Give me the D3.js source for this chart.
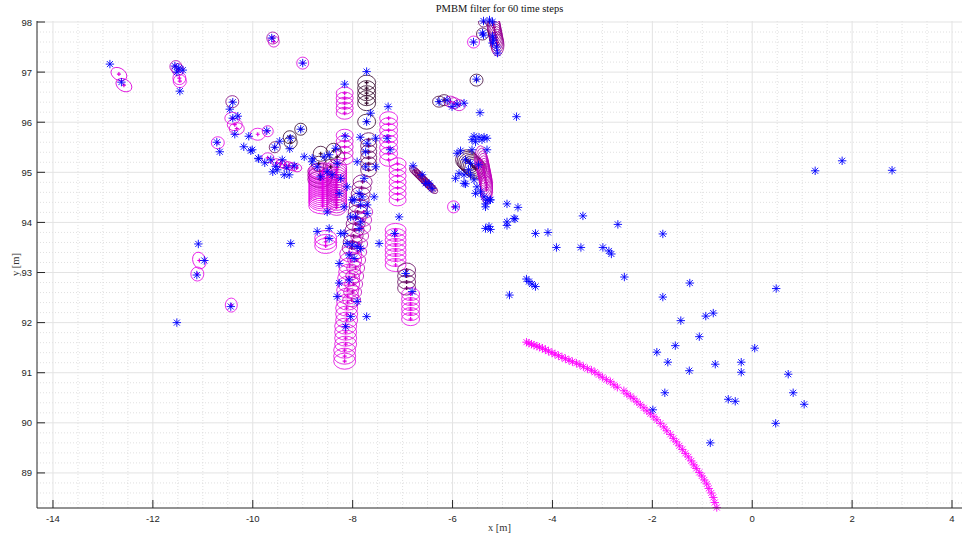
<!DOCTYPE html>
<html><head><meta charset="utf-8">
<script src="https://cdn.jsdelivr.net/npm/d3@7"></script>
<style>body{margin:0;background:#fff}</style>
</head><body>
<svg id="chart" width="967" height="537"></svg>
<script>
// Axis ticks
const xTicks = [-14,-12,-10,-8,-6,-4,-2,0,2,4];
const yTicks = [89,90,91,92,93,94,95,96,97,98];

// Measurements (blue asterisks), [x, y] in metres
const measurements = [
[-12.86,97.16],[-12.63,96.80],
[-11.56,97.12],[-11.48,97.08],[-11.40,97.04],[-11.52,97.00],[-11.46,96.62],
[-10.40,96.40],[-10.46,96.26],[-10.40,96.08],[-10.30,96.12],[-10.36,95.76],[-10.72,95.60],[-10.66,95.41],
[-10.18,95.51],[-10.04,95.43],[-10.08,95.72],[-9.72,95.83],[-9.88,95.27],[-9.56,95.50],[-9.46,95.62],
[-9.26,95.47],[-9.04,95.86],[-9.62,97.68],[-9.00,97.18],[-9.25,95.68],
[-9.89,95.28],[-9.64,95.25],[-9.54,95.12],[-9.41,95.25],[-9.37,94.95],[-9.27,94.95],[-9.51,95.05],
[-9.17,95.13],[-10.01,95.45],[-9.60,95.01],[-9.32,95.09],[-9.76,95.19],
[-8.97,95.31],[-8.81,95.28],[-8.57,95.31],[-8.47,95.35],[-8.71,95.11],[-8.51,95.01],[-8.41,94.95],
[-8.34,95.48],[-8.31,95.18],[-8.24,94.88],[-8.64,94.91],[-8.81,95.21],
[-8.16,96.76],[-7.72,97.01],[-7.64,96.18],[-7.29,96.31],[-7.72,96.01],
[-8.15,95.72],[-7.85,95.70],[-7.54,95.68],[-7.71,95.58],[-7.74,95.41],[-7.74,95.11],[-7.54,95.11],
[-7.91,95.21],[-7.31,95.68],[-7.25,95.45],
[-8.11,94.71],[-8.27,94.58],[-7.77,94.88],[-7.97,94.45],[-7.87,94.58],[-7.57,94.51],[-7.71,94.35],
[-8.04,94.11],[-7.84,94.01],[-8.51,94.21],[-8.47,93.88],[-8.71,93.82],[-8.24,93.78],[-7.07,94.11],
[-7.16,93.78],[-6.79,95.13],[-6.61,94.95],[-6.47,94.78],[-6.41,94.68],[-6.54,94.78],
[-8.17,94.31],[-8.01,94.45],[-7.81,94.51],[-7.84,94.35],[-7.94,94.11],[-7.71,94.18],[-7.87,93.88],
[-8.17,93.78],[-8.47,93.68],[-8.11,93.58],[-8.01,93.55],[-7.91,93.52],[-7.84,93.48],[-8.07,93.35],
[-7.97,93.28],[-8.27,93.18],[-9.24,93.58],[-7.47,93.58],[-6.94,92.98],[-6.81,92.62],[-8.27,92.79],
[-8.31,92.52],[-8.07,92.85],[-7.91,92.42],[-8.04,92.12],[-8.14,91.92],[-7.72,92.12],
[-6.27,96.41],[-6.11,96.44],[-6.01,96.31],[-5.77,96.38],[-5.91,96.36],[-5.52,96.86],[-5.45,96.19],[-4.72,96.11],
[-5.38,98.02],[-5.26,98.04],[-5.20,98.00],[-5.40,97.78],[-5.38,97.74],[-5.58,97.60],[-5.20,97.72],
[-5.18,97.64],[-5.20,97.58],[-5.10,97.38],[-5.12,97.50],
[-5.57,95.72],[-5.47,95.70],[-5.37,95.70],[-5.31,95.68],[-5.54,95.61],[-5.61,95.65],[-5.41,95.65],
[-5.31,95.45],[-5.84,95.43],[-5.91,95.38],[-5.61,95.45],[-5.74,95.25],[-5.64,95.18],[-5.87,94.98],
[-5.94,94.88],[-5.77,94.78],[-5.64,94.95],[-5.57,94.85],[-5.51,94.71],[-5.44,94.61],[-5.37,94.51],
[-5.31,94.45],[-5.24,94.45],[-5.34,94.31],[-5.54,94.58],[-5.77,94.95],[-5.27,93.92],
[-5.34,93.88],[-4.77,94.08],[-4.91,94.01],[-5.74,94.77],[-5.48,95.15],[-5.68,95.05],
[-5.94,94.31],[-4.91,94.37],[-4.69,94.30],[-4.75,94.07],[-4.91,93.94],[-5.24,93.86],[-5.25,94.45],[-5.34,94.37],
[-4.34,93.78],[-4.09,93.80],[-3.39,94.13],[-2.69,93.96],[-1.79,93.77],[-3.92,93.50],[-3.43,93.50],
[-2.99,93.50],[-2.87,93.43],[-2.82,93.37],[-2.56,92.91],[-4.52,92.87],[-4.47,92.82],[-4.41,92.77],
[-4.34,92.72],[-4.86,92.55],[-1.79,92.51],[-1.25,92.79],[0.48,92.68],[-1.43,92.04],[-0.93,92.13],
[-0.78,92.19],[-1.06,91.72],[-1.54,91.54],[0.05,91.49],[-1.91,91.41],[-1.69,91.21],[-0.74,91.17],
[-0.22,91.21],[-0.22,91.01],[-1.26,91.04],[0.72,90.97],[0.82,90.60],[1.04,90.37],[-0.48,90.47],
[-0.34,90.43],[-1.75,90.60],[-1.99,90.26],[0.47,89.99],[-0.84,89.60],[1.26,95.03],[1.80,95.23],[2.80,95.04],
[-11.09,93.57],[-10.97,93.24],[-11.12,92.95],[-10.44,92.32],[-11.52,92.00]
];

// Ground-truth trajectory (magenta asterisks)
const truth = [
[-4.52,91.61],[-4.47,91.59],[-4.42,91.57],[-4.37,91.55],[-4.31,91.53],[-4.26,91.51],[-4.20,91.49],
[-4.14,91.46],[-4.08,91.43],[-4.01,91.40],[-3.95,91.37],[-3.88,91.34],[-3.81,91.31],[-3.74,91.28],
[-3.67,91.25],[-3.60,91.22],[-3.52,91.19],[-3.45,91.16],[-3.38,91.12],[-3.30,91.08],[-3.22,91.05],
[-3.15,91.01],[-3.07,90.96],[-3.00,90.91],[-2.92,90.86],[-2.84,90.82],[-2.77,90.76],[-2.70,90.71],
[-2.57,90.64],[-2.51,90.58],[-2.44,90.53],[-2.37,90.48],[-2.31,90.42],[-2.24,90.36],[-2.17,90.30],
[-2.11,90.24],[-2.04,90.18],[-1.97,90.12],[-1.91,90.06],[-1.84,89.99],[-1.77,89.92],[-1.71,89.84],
[-1.64,89.77],[-1.58,89.69],[-1.52,89.62],[-1.46,89.54],[-1.40,89.47],[-1.34,89.39],[-1.28,89.32],
[-1.22,89.24],[-1.17,89.16],[-1.12,89.09],[-1.06,89.01],[-1.01,88.94],[-0.96,88.86],[-0.91,88.78],
[-0.87,88.69],[-0.82,88.60],[-0.78,88.51],[-0.75,88.41],[-0.71,88.31]
];

// Track estimates: tone (0 = dark, 1 = magenta), semi-axes sx/sy [m], rotation [deg], centres
const tracks = [
{tone:0.9, sx:0.17, sy:0.12, rot:30, pts:[[-12.68,96.96],[-12.58,96.74]]},
{tone:0.7, sx:0.12, sy:0.12, rot:0, pts:[[-11.54,97.11],[-11.50,97.05]]},
{tone:0.95, sx:0.13, sy:0.13, rot:0, pts:[[-11.47,96.88],[-11.46,96.82]]},
{tone:0.45, sx:0.13, sy:0.12, rot:0, pts:[[-10.41,96.41]]},
{tone:0.9, sx:0.15, sy:0.12, rot:0, pts:[[-10.41,96.08],[-10.36,95.95],[-10.32,95.87]]},
{tone:0.95, sx:0.13, sy:0.12, rot:0, pts:[[-10.70,95.59]]},
{tone:0.95, sx:0.15, sy:0.12, rot:0, pts:[[-9.90,95.76]]},
{tone:0.9, sx:0.11, sy:0.11, rot:0, pts:[[-9.70,95.82]]},
{tone:0.05, sx:0.13, sy:0.13, rot:0, pts:[[-9.26,95.70],[-9.24,95.60]]},
{tone:0.05, sx:0.12, sy:0.12, rot:0, pts:[[-9.04,95.86]]},
{tone:0.3, sx:0.11, sy:0.11, rot:0, pts:[[-9.56,95.50]]},
{tone:0.9, sx:0.12, sy:0.10, rot:0, pts:[[-9.70,95.29]]},
{tone:0.85, sx:0.10, sy:0.08, rot:10, pts:[[-9.52,95.19],[-9.44,95.17],[-9.36,95.15],[-9.28,95.13],[-9.20,95.11],[-9.12,95.09]]},
{tone:0.6, sx:0.12, sy:0.12, rot:0, pts:[[-9.60,97.68]]},
{tone:0.85, sx:0.11, sy:0.11, rot:0, pts:[[-9.58,97.61]]},
{tone:0.9, sx:0.12, sy:0.12, rot:0, pts:[[-9.00,97.18]]},
{tone:0.05, sx:0.18, sy:0.15, rot:0, pts:[[-7.72,96.79],[-7.72,96.68],[-7.72,96.58],[-7.72,96.48],[-7.72,96.38],[-7.72,96.01]]},
{tone:0.9, sx:0.17, sy:0.12, rot:0, pts:[[-8.16,96.58],[-8.16,96.48],[-8.16,96.38],[-8.16,96.28],[-8.16,96.18]]},
{tone:0.9, sx:0.17, sy:0.12, rot:0, pts:[[-8.16,95.74],[-8.16,95.62],[-8.16,95.51],[-8.16,95.39],[-8.16,95.27]]},
{tone:0.95, sx:0.18, sy:0.13, rot:0, pts:[[-7.28,96.08],[-7.28,95.96],[-7.28,95.84],[-7.28,95.72],[-7.28,95.61],[-7.28,95.49],[-7.28,95.37],[-7.28,95.25]]},
{tone:0.3, sx:0.16, sy:0.14, rot:0, pts:[[-7.68,95.65],[-7.68,95.53],[-7.68,95.41],[-7.68,95.29],[-7.68,95.17],[-7.68,95.05]]},
{tone:0.95, sx:0.17, sy:0.12, rot:0, pts:[[-7.10,95.17],[-7.10,95.05],[-7.10,94.93],[-7.10,94.81],[-7.10,94.69],[-7.10,94.57],[-7.10,94.45]]},
{tone:0.08, sx:0.15, sy:0.15, rot:0, pts:[[-8.64,95.37],[-8.38,95.43],[-8.31,95.31],[-8.44,95.11],[-8.68,95.17]]},
{tone:0.95, sx:0.28, sy:0.16, rot:0, pts:[[-8.60,95.03],[-8.60,94.99],[-8.60,94.95],[-8.60,94.91],[-8.60,94.87],[-8.60,94.83],[-8.60,94.79],[-8.60,94.75],[-8.60,94.71],[-8.60,94.67],[-8.60,94.63],[-8.60,94.59],[-8.60,94.55],[-8.60,94.51],[-8.60,94.47],[-8.60,94.43],[-8.60,94.39],[-8.60,94.33]]},
{tone:0.6, sx:0.24, sy:0.16, rot:0, pts:[[-8.66,95.02],[-8.66,94.94],[-8.66,94.86]]},
{tone:0.85, sx:0.20, sy:0.16, rot:0, pts:[[-8.32,95.10],[-8.32,95.05],[-8.32,95.00],[-8.32,94.95],[-8.32,94.90],[-8.32,94.85],[-8.32,94.80],[-8.32,94.75],[-8.32,94.70],[-8.32,94.65],[-8.32,94.60],[-8.32,94.55],[-8.32,94.50],[-8.32,94.45],[-8.32,94.40],[-8.32,94.35],[-8.32,94.30]]},
{tone:0.45, sx:0.19, sy:0.14, rot:0, pts:[[-7.80,94.81],[-7.82,94.69],[-7.84,94.57],[-7.86,94.45],[-7.88,94.33],[-7.90,94.21],[-7.92,94.09],[-7.94,93.97],[-7.96,93.85],[-7.98,93.73],[-8.00,93.61],[-8.02,93.49]]},
{tone:0.75, sx:0.18, sy:0.13, rot:0, pts:[[-7.78,94.21],[-7.80,94.05],[-7.82,93.89],[-7.86,93.73],[-7.88,93.57],[-7.90,93.41],[-7.92,93.25],[-7.94,93.09],[-7.96,92.93],[-7.98,92.77],[-8.00,92.61],[-8.02,92.45]]},
{tone:0.92, sx:0.22, sy:0.16, rot:0, pts:[[-8.04,93.37],[-8.04,93.25],[-8.06,93.13],[-8.06,93.01],[-8.08,92.89],[-8.08,92.77],[-8.10,92.65],[-8.10,92.53],[-8.10,92.41],[-8.12,92.29],[-8.12,92.17],[-8.12,92.05],[-8.14,91.93],[-8.14,91.81],[-8.14,91.69],[-8.14,91.57],[-8.16,91.45],[-8.16,91.33],[-8.16,91.23]]},
{tone:0.95, sx:0.21, sy:0.13, rot:0, pts:[[-7.14,93.85],[-7.14,93.75],[-7.14,93.65],[-7.14,93.55],[-7.14,93.45],[-7.14,93.35],[-7.14,93.25],[-7.14,93.15]]},
{tone:0.3, sx:0.18, sy:0.14, rot:0, pts:[[-6.92,93.05],[-6.92,92.93],[-6.92,92.81],[-6.92,92.69]]},
{tone:0.95, sx:0.18, sy:0.13, rot:0, pts:[[-6.84,92.57],[-6.84,92.47],[-6.84,92.37],[-6.84,92.27],[-6.84,92.17],[-6.84,92.07]]},
{tone:0.95, sx:0.22, sy:0.15, rot:0, pts:[[-8.54,93.69],[-8.54,93.61],[-8.54,93.53]]},
{tone:0.95, sx:0.12, sy:0.12, rot:0, pts:[[-5.98,94.31]]},
{tone:0.4, sx:0.12, sy:0.07, rot:40, pts:[[-6.76,95.03],[-6.73,95.00],[-6.70,94.97],[-6.67,94.94],[-6.64,94.91],[-6.61,94.88],[-6.58,94.85],[-6.55,94.82],[-6.52,94.79],[-6.49,94.76],[-6.46,94.73],[-6.43,94.70],[-6.40,94.67]]},
{tone:0.15, sx:0.13, sy:0.11, rot:0, pts:[[-6.27,96.41],[-6.17,96.44]]},
{tone:0.8, sx:0.13, sy:0.11, rot:0, pts:[[-6.04,96.41],[-5.97,96.38],[-5.87,96.34]]},
{tone:0.1, sx:0.13, sy:0.12, rot:0, pts:[[-5.52,96.84]]},
{tone:0.15, sx:0.22, sy:0.20, rot:0, pts:[[-5.72,95.25],[-5.69,95.22],[-5.66,95.19],[-5.63,95.16],[-5.60,95.13],[-5.57,95.10],[-5.54,95.07]]},
{tone:0.75, sx:0.12, sy:0.28, rot:0, pts:[[-5.44,95.25],[-5.42,95.20],[-5.40,95.15],[-5.39,95.10],[-5.38,95.05],[-5.37,95.00],[-5.36,94.95],[-5.35,94.90],[-5.34,94.85],[-5.33,94.80],[-5.32,94.75],[-5.32,94.70],[-5.32,94.65]]},
{tone:0.55, sx:0.13, sy:0.22, rot:0, pts:[[-5.18,97.94],[-5.17,97.89],[-5.16,97.84],[-5.15,97.79],[-5.14,97.74],[-5.13,97.69],[-5.12,97.64],[-5.11,97.59],[-5.10,97.54]]},
{tone:0.95, sx:0.12, sy:0.12, rot:0, pts:[[-5.58,97.60]]},
{tone:0.15, sx:0.12, sy:0.12, rot:0, pts:[[-5.40,97.76]]},
{tone:0.3, sx:0.10, sy:0.10, rot:0, pts:[[-5.38,98.00],[-5.26,98.02]]},
{tone:0.95, sx:0.13, sy:0.17, rot:-20, pts:[[-11.07,93.24]]},
{tone:0.95, sx:0.13, sy:0.14, rot:0, pts:[[-11.11,92.97]]},
{tone:0.95, sx:0.12, sy:0.14, rot:0, pts:[[-10.43,92.35]]}
];

const svg = d3.select("#chart");
const x = d3.scaleLinear().domain([-14.32, 4.2]).range([37, 962]);
const y = d3.scaleLinear().domain([88.3, 98.02]).range([508, 21]);
const [x0, x1] = x.range(), [y0, y1] = [y.range()[1], y.range()[0]];
const toneColor = d3.interpolateRgb("#2a0822", "#f000f0");

// Clip for line objects
svg.append("defs").append("clipPath").attr("id", "plotClip")
  .append("rect").attr("x", x0).attr("y", y0).attr("width", x1 - x0).attr("height", y1 - y0);

// Grid
const grid = svg.append("g");
const xMinor = d3.range(-14, 4.01, 0.5).filter(v => Math.abs(v / 2 - Math.round(v / 2)) > 1e-6);
const yMinor = d3.range(88.4, 98.01, 0.2).filter(v => Math.abs(v - Math.round(v)) > 1e-6);
grid.selectAll(".xm").data(xMinor).join("line")
  .attr("x1", d => x(d)).attr("x2", d => x(d)).attr("y1", y0).attr("y2", y1)
  .attr("stroke", "#d8d8d8").attr("stroke-width", 0.8).attr("stroke-dasharray", "1,2");
grid.selectAll(".ym").data(yMinor).join("line")
  .attr("y1", d => y(d)).attr("y2", d => y(d)).attr("x1", x0).attr("x2", x1)
  .attr("stroke", "#d8d8d8").attr("stroke-width", 0.8).attr("stroke-dasharray", "1,2");
grid.selectAll(".xM").data(xTicks).join("line")
  .attr("x1", d => x(d)).attr("x2", d => x(d)).attr("y1", y0).attr("y2", y1)
  .attr("stroke", "#e3e3e3").attr("stroke-width", 1);
grid.selectAll(".yM").data(yTicks).join("line")
  .attr("y1", d => y(d)).attr("y2", d => y(d)).attr("x1", x0).attr("x2", x1)
  .attr("stroke", "#e3e3e3").attr("stroke-width", 1);

// Track ellipses and centre markers
const plot = svg.append("g").attr("clip-path", "url(#plotClip)");
const ellData = tracks.flatMap(t => t.pts.map(p => ({x: p[0], y: p[1], sx: t.sx, sy: t.sy, rot: t.rot, c: toneColor(t.tone)})));
plot.selectAll("ellipse").data(ellData).join("ellipse")
  .attr("cx", d => x(d.x)).attr("cy", d => y(d.y))
  .attr("rx", d => x(d.sx) - x(0)).attr("ry", d => y(0) - y(d.sy))
  .attr("transform", d => `rotate(${d.rot},${x(d.x)},${y(d.y)})`)
  .attr("fill", "none").attr("stroke", d => d.c).attr("stroke-width", 0.8);
plot.selectAll("path.ctr").data(ellData).join("path").attr("class", "ctr")
  .attr("d", d => { const cx = x(d.x), cy = y(d.y), r = 2; return `M${cx-r},${cy}H${cx+r}M${cx},${cy-r}V${cy+r}`; })
  .attr("stroke", d => d.c).attr("stroke-width", 1.2);

// Asterisk marker
function star(cx, cy, r) {
  const d = r * 0.72;
  return `M${cx-r},${cy}H${cx+r}M${cx},${cy-r}V${cy+r}M${cx-d},${cy-d}L${cx+d},${cy+d}M${cx-d},${cy+d}L${cx+d},${cy-d}`;
}
svg.append("g").selectAll("path").data(truth).join("path")
  .attr("d", d => star(x(d[0]), y(d[1]), 4.2))
  .attr("stroke", "#ff00ff").attr("stroke-width", 0.9).attr("fill", "none");
svg.append("g").selectAll("path").data(measurements).join("path")
  .attr("d", d => star(x(d[0]), y(d[1]), 4.2))
  .attr("stroke", "#0000ff").attr("stroke-width", 0.9).attr("fill", "none");

// Axes
const axisColor = "#262626";
const axG = svg.append("g");
axG.append("line").attr("x1", x0).attr("x2", x0).attr("y1", y0).attr("y2", y1).attr("stroke", axisColor);
axG.append("line").attr("x1", x0).attr("x2", x1).attr("y1", y1).attr("y2", y1).attr("stroke", axisColor);
axG.selectAll(".xt").data(xTicks).join("line")
  .attr("x1", d => x(d)).attr("x2", d => x(d)).attr("y1", y1).attr("y2", y1 - 8).attr("stroke", axisColor);
axG.selectAll(".yt").data(yTicks).join("line")
  .attr("y1", d => y(d)).attr("y2", d => y(d)).attr("x1", x0).attr("x2", x0 + 8).attr("stroke", axisColor);
axG.selectAll(".xl").data(xTicks).join("text")
  .attr("x", d => x(d)).attr("y", y1 + 14).attr("text-anchor", "middle")
  .attr("font-family", "Liberation Sans, Arial, sans-serif").attr("font-size", 9.5).attr("fill", axisColor)
  .text(d => d);
axG.selectAll(".yl").data(yTicks).join("text")
  .attr("x", x0 - 5).attr("y", d => y(d) + 3.5).attr("text-anchor", "end")
  .attr("font-family", "Liberation Sans, Arial, sans-serif").attr("font-size", 9.5).attr("fill", axisColor)
  .text(d => d);

svg.append("text").attr("x", (x0 + x1) / 2).attr("y", 12).attr("text-anchor", "middle")
  .attr("font-family", "Liberation Serif, DejaVu Serif, serif").attr("font-size", 10.5).attr("fill", "#111")
  .text("PMBM filter for 60 time steps");
svg.append("text").attr("x", (x0 + x1) / 2).attr("y", 531).attr("text-anchor", "middle")
  .attr("font-family", "Liberation Serif, DejaVu Serif, serif").attr("font-size", 10.5).attr("fill", "#333")
  .text("x [m]");
svg.append("text").attr("transform", `translate(19,${(y0 + y1) / 2}) rotate(-90)`).attr("text-anchor", "middle")
  .attr("font-family", "Liberation Serif, DejaVu Serif, serif").attr("font-size", 10.5).attr("fill", "#333")
  .text("y [m]");
</script>
</body></html>
